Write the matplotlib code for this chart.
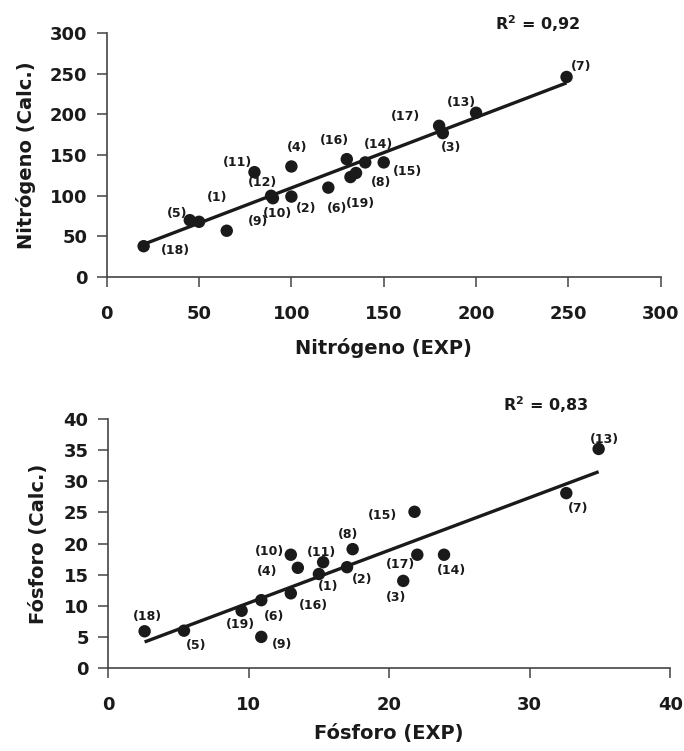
import matplotlib
matplotlib.use("Agg")
import matplotlib.pyplot as plt
import numpy as np

plt.rcParams['font.family'] = ['DejaVu Sans']

# Nitrogen: experimental vs calculated, sample ids 1..19
n_ids = [1, 2, 3, 4, 5, 6, 7, 8, 9, 10, 11, 12, 13, 14, 15, 16, 17, 18, 19]
n_exp = [50, 100, 182, 100, 45, 120, 249, 135, 65, 90, 80, 89, 200, 140, 150, 130, 180, 20, 132]
n_calc = [68, 99, 177, 136, 70, 110, 246, 128, 57, 97, 129, 100, 202, 141, 141, 145, 186, 38, 123]
n_r2 = "0,92"

# Phosphorus (no sample 12)
p_ids = [1, 2, 3, 4, 5, 6, 7, 8, 9, 10, 11, 13, 14, 15, 16, 17, 18, 19]
p_exp = [15.0, 17.0, 21.0, 13.5, 5.4, 10.9, 32.6, 17.4, 10.9, 13.0, 15.3, 34.9, 23.9, 21.8, 13.0, 22.0, 2.6, 9.5]
p_calc = [15.1, 16.2, 14.0, 16.1, 6.0, 10.9, 28.1, 19.1, 5.0, 18.2, 17.0, 35.2, 18.2, 25.1, 12.0, 18.2, 5.9, 9.2]
p_r2 = "0,83"

# label offsets in pixels (dx right, dy down)
n_off = {1: (18, -24), 2: (15, 12), 3: (8, 14), 4: (6, -19), 5: (-13, -7), 6: (9, 21),
         7: (15, -10), 8: (25, 10), 9: (31, -9), 10: (5, 15), 11: (-17, -10), 12: (-9, -13),
         13: (-15, -10), 14: (13, -18), 15: (24, 9), 16: (-12, -19), 17: (-34, -9),
         18: (32, 4), 19: (10, 26)}
p_off = {1: (9, 12), 2: (15, 12), 3: (-7, 17), 4: (-31, 4), 5: (12, 15), 6: (13, 16),
         7: (12, 15), 8: (-5, -15), 9: (21, 8), 10: (-21, -3), 11: (-2, -10), 13: (6, -9),
         14: (7, 16), 15: (-32, 4), 16: (23, 12), 17: (-17, 10), 18: (3, -15), 19: (-1, 14)}

fig = plt.figure(figsize=(6.84, 7.51), dpi=100)
ax1 = fig.add_axes([0.156, 0.631, 0.810, 0.325])
ax2 = fig.add_axes([0.158, 0.1105, 0.822, 0.3315])

ink = '#1a1a1a'


def panel(ax, ids, xs, ys, offs, r2, r2pos, xlim, ylim, xticks, yticks, xlabel, ylabel,
          xlabelpad, ylabelpad):
    xs = np.array(xs)
    ys = np.array(ys)
    b, a = np.polyfit(xs, ys, 1)
    xl = np.array([xs.min(), xs.max()])
    ax.plot(xl, a + b * xl, color=ink, lw=2.4, solid_capstyle='butt', zorder=2)
    ax.scatter(xs, ys, s=80, color=ink, edgecolors='none', zorder=3)
    for i, x, y in zip(ids, xs, ys):
        dx, dy = offs[i]
        ax.annotate(f"({i})", (x, y), xytext=(dx, -dy), textcoords='offset pixels',
                    ha='center', va='center', fontsize=9, fontweight='bold', color=ink)
    ax.text(r2pos[0], r2pos[1], r"R$^{\mathbf{2}}$ = " + r2, transform=ax.transAxes,
            ha='center', va='center', fontsize=11.5, fontweight='bold', color=ink)
    ax.set_xlim(*xlim)
    ax.set_ylim(*ylim)
    ax.set_xticks(xticks)
    ax.set_yticks(yticks)
    for s in ['top', 'right']:
        ax.spines[s].set_visible(False)
    for s in ['left', 'bottom']:
        ax.spines[s].set_color('#444444')
        ax.spines[s].set_linewidth(1.2)
    ax.tick_params(direction='out', length=7, width=1.1, color='#444444',
                   labelsize=13, labelcolor=ink)
    ax.tick_params(axis='x', pad=13)
    ax.tick_params(axis='y', pad=7)
    for lab in ax.get_xticklabels() + ax.get_yticklabels():
        lab.set_fontweight('bold')
    ax.set_xlabel(xlabel, fontsize=14, fontweight='bold', color=ink, labelpad=xlabelpad)
    ax.set_ylabel(ylabel, fontsize=14, fontweight='bold', color=ink, labelpad=ylabelpad)


panel(ax1, n_ids, n_exp, n_calc, n_off, n_r2, (0.778, 1.04), (0, 300), (0, 300),
      [0, 50, 100, 150, 200, 250, 300], [0, 50, 100, 150, 200, 250, 300],
      'Nitrógeno (EXP)', 'Nitrógeno (Calc.)', 11, 10)
panel(ax2, p_ids, p_exp, p_calc, p_off, p_r2, (0.778, 1.056), (0, 40), (0, 40),
      [0, 10, 20, 30, 40], [0, 5, 10, 15, 20, 25, 30, 35, 40],
      'Fósforo (EXP)', 'Fósforo (Calc.)', 7, 11)

fig.savefig('out.png', dpi=100)
